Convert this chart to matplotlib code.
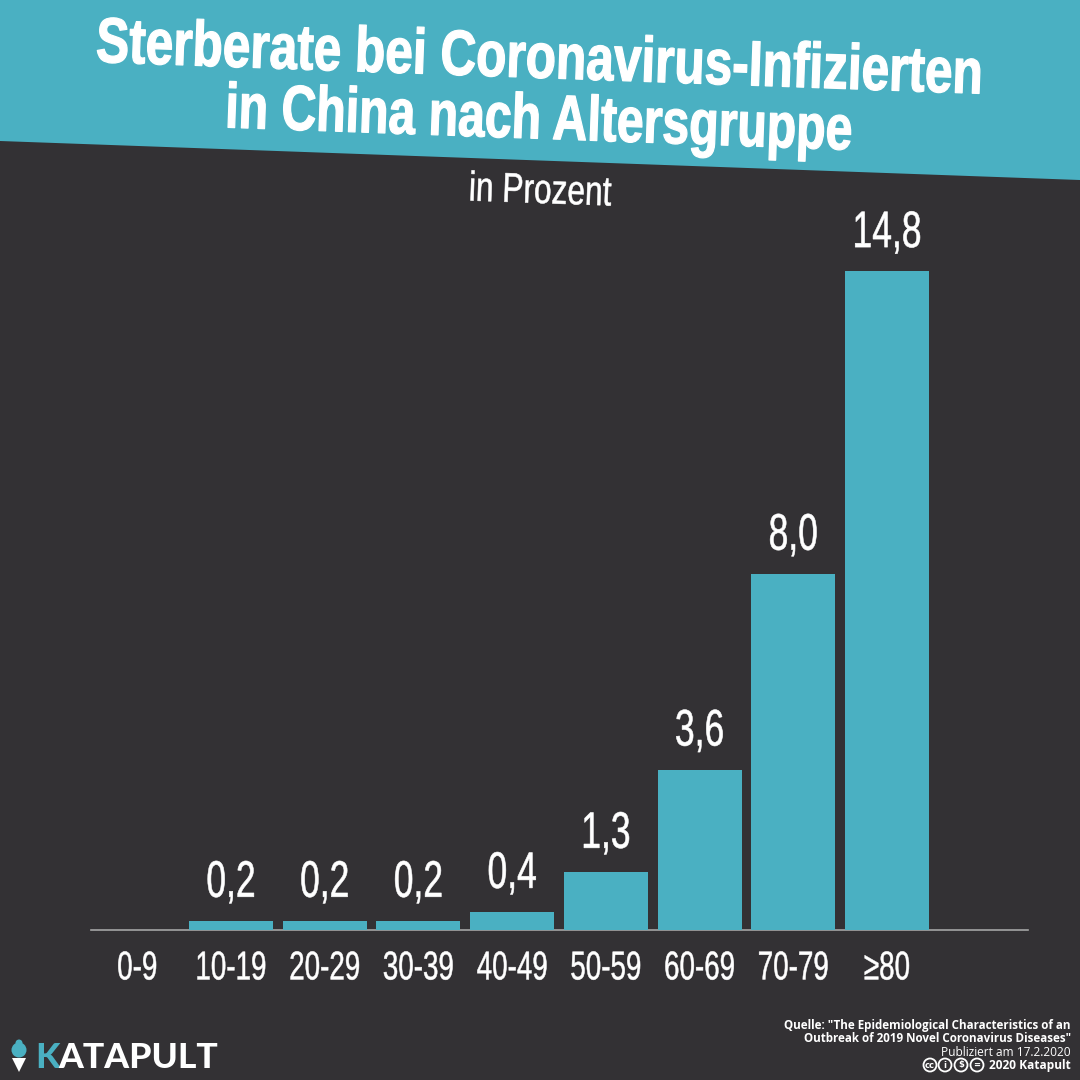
import matplotlib
matplotlib.use("Agg")
import matplotlib.pyplot as plt
from matplotlib.patches import Polygon, Circle
from matplotlib.patheffects import AbstractPathEffect
from matplotlib.transforms import Affine2D, Bbox
import math

categories = ["0-9", "10-19", "20-29", "30-39", "40-49", "50-59", "60-69", "70-79", "≥80"]
values = [0, 0.2, 0.2, 0.2, 0.4, 1.3, 3.6, 8.0, 14.8]
value_labels = [None, "0,2", "0,2", "0,2", "0,4", "1,3", "3,6", "8,0", "14,8"]
title_lines = ["Sterberate bei Coronavirus-Infizierten", "in China nach Altersgruppe"]
subtitle = "in Prozent"
source_bold = ['Quelle: "The Epidemiological Characteristics of an', 'Outbreak of 2019 Novel Coronavirus Diseases"']
published = "Publiziert am 17.2.2020"
copyright_text = "2020 Katapult"

BG = "#333134"
TEAL = "#4AB0C2"
FONT = "Liberation Sans"


class Narrow(AbstractPathEffect):
    """Rescale a text's glyphs about its anchor, along its own baseline, and thicken them a little."""
    def __init__(self, text, sx=1.0, sy=1.0, stroke=0.0):
        super().__init__()
        self.text, self.sx, self.sy, self.stroke = text, sx, sy, stroke

    def draw_path(self, renderer, gc, tpath, affine, rgbFace=None):
        cx, cy = self.text.get_transform().transform(self.text.get_position())
        a = math.radians(self.text.get_rotation())
        squeeze = (Affine2D().translate(-cx, -cy).rotate(-a).scale(self.sx, self.sy)
                   .rotate(a).translate(cx, cy))
        gc0 = renderer.new_gc()
        gc0.copy_properties(gc)
        if self.stroke:
            gc0.set_foreground(self.text.get_color())
            gc0.set_linewidth(self.stroke)
        renderer.draw_path(gc0, tpath, affine + squeeze, rgbFace)
        gc0.restore()


def condense(text, sx, stroke=0.0):
    text.set_path_effects([Narrow(text, sx=sx, stroke=stroke)])
    full = text.get_window_extent

    def extent(renderer=None, dpi=None):
        b = full(renderer, dpi)
        cx = text.get_transform().transform(text.get_position())[0]
        return Bbox.from_extents(cx + (b.x0 - cx) * sx, b.y0, cx + (b.x1 - cx) * sx, b.y1)

    text.get_window_extent = extent
    return text


W = H = 1080
fig = plt.figure(figsize=(10.8, 10.8), dpi=100, facecolor=BG)
overlay = fig.add_axes([0, 0, 1, 1])
overlay.set_xlim(0, W); overlay.set_ylim(H, 0); overlay.axis("off")
overlay.add_patch(Polygon([(0, 0), (W, 0), (W, 180), (0, 141)], closed=True, fc=TEAL, ec="none"))

for (tx, ty, s, fs, sy) in ((540.5, 61, title_lines[0], 35.7, 1.29), (538.5, 122, title_lines[1], 34.7, 1.32)):
    t = overlay.text(tx, ty, s, color="white", fontsize=fs, fontweight="bold", family=FONT,
                     rotation=-2.05, rotation_mode="anchor", ha="center", va="center")
    t.set_path_effects([Narrow(t, sy=sy, stroke=0.9)])
condense(overlay.text(540, 192, subtitle, color="white", fontsize=30, family=FONT,
                      rotation=-2.05, rotation_mode="anchor", ha="center", va="center"), 0.76, stroke=0.4)

STEP = 93.71
C0 = 137.3
ax = fig.add_axes([91 / W, 1 - 930 / H, (1028 - 91) / W, 730 / H])
ax.patch.set_alpha(0)
x = list(range(len(categories)))
ax.bar(x, values, width=84 / STEP, color=TEAL, zorder=3)
ax.set_xlim((91 - C0) / STEP, (1028 - C0) / STEP)
ax.set_ylim(0, 730 / 44.5)
for s in ("top", "left", "right"):
    ax.spines[s].set_visible(False)
ax.spines["bottom"].set_color("#A5A5A5")
ax.spines["bottom"].set_linewidth(1.2)
ax.set_yticks([])
ax.set_xticks(x)
ax.set_xticklabels(categories, color="white", fontsize=29, family=FONT)
ax.tick_params(axis="x", length=0, pad=14)
for lab in ax.get_xticklabels():
    condense(lab, 0.69, stroke=0.35)
for xi, v, lab in zip(x, values, value_labels):
    if lab:
        condense(ax.annotate(lab, (xi, v), xytext=(0, 17.5), textcoords="offset points", ha="center",
                             va="baseline", color="white", fontsize=37, family=FONT), 0.69, stroke=0.4)

# logo
overlay.add_patch(Polygon([(12, 1058), (26, 1058), (19, 1072)], closed=True, fc="white", ec="none"))
overlay.add_patch(Circle((19, 1050), 7.5, fc=TEAL, ec="none"))
overlay.add_patch(Circle((19, 1043), 3.5, fc=TEAL, ec="none"))
overlay.text(35, 1058, "K", color=TEAL, fontsize=25.5, fontweight="black", family="Lato", va="center", ha="left")
overlay.text(58, 1058, "ATAPULT", color="white", fontsize=25.5, fontweight="black", family="Lato", va="center", ha="left")

# source
for y, s in zip((1026, 1039), source_bold):
    overlay.text(1071, y, s, color="white", fontsize=8.4, fontweight="bold", family="Open Sans", ha="right", va="center")
overlay.text(1071, 1052, published, color="white", fontsize=8.6, family="Open Sans", ha="right", va="center")
overlay.text(1071, 1065, copyright_text, color="white", fontsize=8.6, fontweight="bold", family="Open Sans", ha="right", va="center")
for cx, g in zip((930, 945, 961, 977), ("cc", "i", "$", "=")):
    overlay.add_patch(Circle((cx, 1065), 6.5, fc="none", ec="white", lw=1.3))
    overlay.text(cx, 1065, g, color="white", fontsize=6, fontweight="bold", ha="center", va="center")

fig.savefig("out.png", dpi=100, facecolor=BG)
